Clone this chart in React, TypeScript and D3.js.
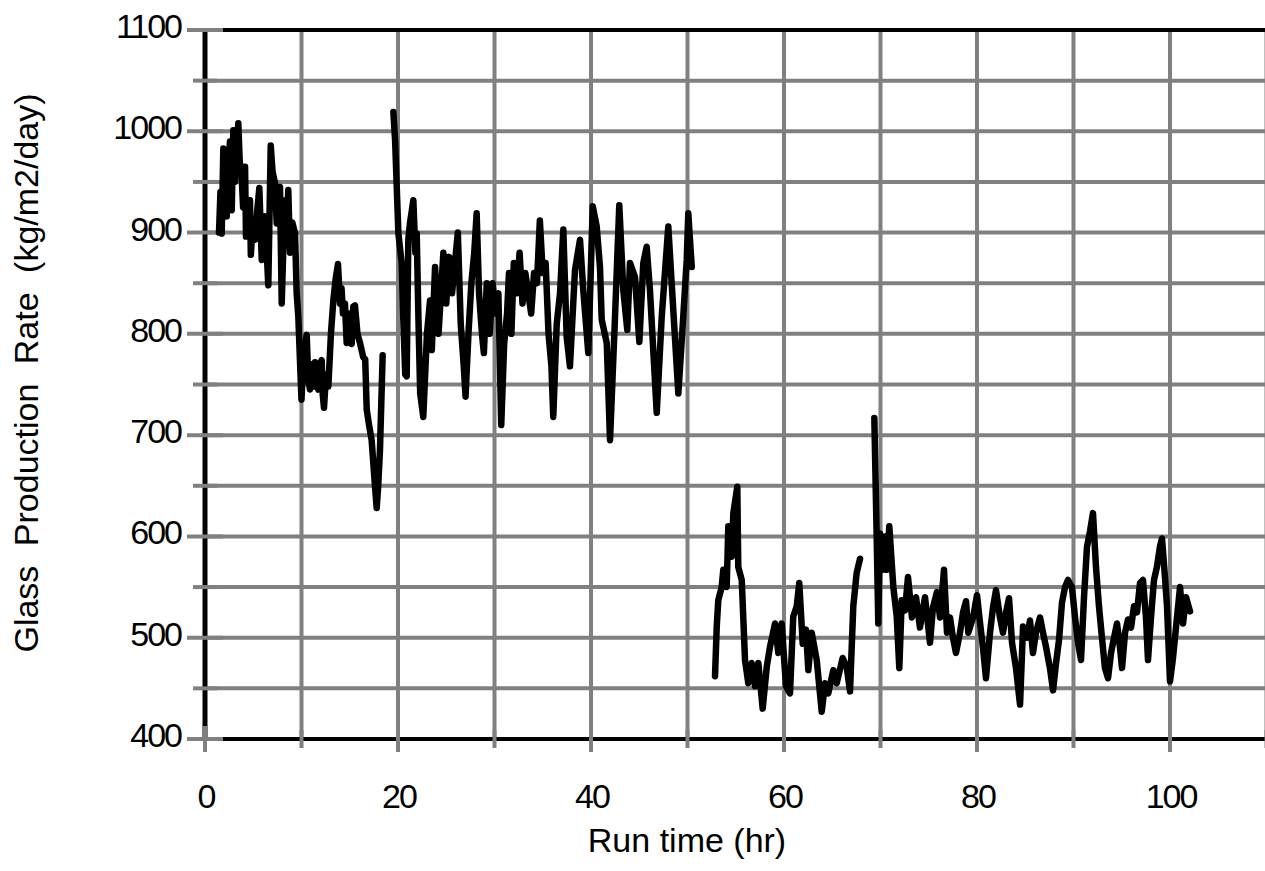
import React from 'react';
import * as d3 from 'd3';

// Axis ticks
const X_TICKS = [0, 20, 40, 60, 80, 100];
const Y_TICKS = [400, 500, 600, 700, 800, 900, 1000, 1100];

// Glass production rate (kg/m2/day) vs run time (hr), one array per continuous run
const RUN_1: [number, number][] = [
  [1.45, 900], [1.6, 940], [1.73, 899], [1.9, 983], [2.05, 930], [2.25, 916], [2.4, 960], [2.59, 990],
  [2.77, 922], [2.93, 1001], [3.1, 950], [3.3, 985], [3.45, 1008], [3.6, 970], [3.8, 955], [3.95, 925],
  [4.15, 965], [4.25, 896], [4.45, 920], [4.66, 932], [4.75, 878], [4.95, 910], [5.18, 893], [5.4, 920],
  [5.63, 944], [5.88, 873], [6.05, 900], [6.22, 916], [6.4, 880], [6.56, 848], [6.81, 986], [7.0, 960],
  [7.25, 949], [7.43, 909], [7.6, 930], [7.77, 945], [7.95, 830], [8.1, 880], [8.29, 932], [8.45, 900],
  [8.63, 942], [8.81, 880], [9.05, 910], [9.33, 899], [9.5, 840], [9.67, 817], [9.84, 774], [10.0, 735],
  [10.2, 780], [10.54, 799], [10.7, 755], [10.88, 745], [11.1, 770], [11.25, 748], [11.4, 772], [11.55, 750],
  [11.74, 745], [11.9, 770], [12.09, 774], [12.2, 740], [12.33, 727], [12.55, 760], [12.78, 748], [13.05, 800],
  [13.3, 833], [13.55, 855], [13.78, 869], [13.99, 830], [14.15, 845], [14.3, 820], [14.5, 830], [14.68, 791],
  [14.85, 820], [15.0, 800], [15.2, 790], [15.37, 827], [15.54, 828], [15.8, 800], [16.06, 791], [16.4, 777],
  [16.6, 775], [16.76, 725], [17.0, 710], [17.27, 695], [17.62, 649], [17.79, 628], [17.95, 650], [18.13, 685],
  [18.41, 779],
];

const RUN_2: [number, number][] = [
  [19.52, 1019], [19.7, 991], [20.04, 899], [20.38, 870], [20.55, 814], [20.75, 760], [20.9, 758], [21.07, 893],
  [21.25, 910], [21.59, 932], [21.8, 880], [21.94, 899], [22.12, 814], [22.3, 741], [22.62, 718], [23.0, 800],
  [23.32, 833], [23.5, 784], [23.84, 866], [24.2, 800], [24.45, 840], [24.7, 880], [25.0, 830], [25.3, 876],
  [25.6, 840], [25.9, 870], [26.2, 900], [26.5, 810], [26.8, 770], [27.0, 738], [27.3, 800], [27.6, 850],
  [27.9, 880], [28.15, 919], [28.4, 840], [28.7, 800], [28.9, 781], [29.2, 850], [29.5, 800], [29.8, 850],
  [30.1, 820], [30.4, 840], [30.7, 710], [31.0, 790], [31.3, 820], [31.5, 860], [31.75, 800], [32.0, 870],
  [32.3, 840], [32.6, 880], [32.9, 830], [33.2, 860], [33.5, 840], [33.8, 820], [34.1, 860], [34.4, 850],
  [34.7, 912], [35.0, 860], [35.3, 870], [35.6, 800], [35.9, 768], [36.09, 718], [36.45, 810], [36.79, 840],
  [37.13, 903], [37.48, 797], [37.82, 768], [38.34, 863], [38.86, 893], [39.2, 843], [39.72, 781], [40.18, 926],
  [40.59, 906], [40.93, 866], [41.11, 814], [41.63, 791], [41.97, 695], [42.49, 817], [42.93, 927], [43.35, 843],
  [43.76, 804], [44.04, 870], [44.56, 856], [45.01, 792], [45.42, 870], [45.77, 886], [46.11, 843], [46.81, 722],
  [47.33, 817], [48.01, 906], [48.36, 850], [49.05, 741], [49.56, 817], [49.92, 873], [50.08, 919], [50.44, 866],
];

const RUN_3: [number, number][] = [
  [52.85, 462], [53.03, 511], [53.19, 537], [53.54, 550], [53.71, 567], [54.06, 550], [54.23, 610], [54.58, 580],
  [54.75, 623], [55.16, 649], [55.26, 570], [55.62, 557], [55.96, 478], [56.3, 455], [56.65, 475], [57.0, 452],
  [57.34, 475], [57.79, 430], [58.21, 471], [58.55, 491], [59.07, 514], [59.41, 485], [59.76, 514], [60.21, 452],
  [60.62, 445], [60.96, 521], [61.32, 531], [61.58, 554], [61.94, 494], [62.28, 508], [62.52, 468], [62.87, 505],
  [63.39, 478], [63.91, 427], [64.25, 455], [64.59, 445], [65.11, 468], [65.46, 455], [66.08, 480], [66.5, 471],
  [66.84, 447], [67.18, 531], [67.53, 564], [67.88, 578],
];

const RUN_4: [number, number][] = [
  [69.36, 717], [69.61, 597], [69.77, 514], [69.95, 603], [70.23, 567], [70.47, 600], [70.64, 567], [70.91, 610],
  [71.33, 550], [71.68, 521], [71.95, 470], [72.2, 537], [72.54, 527], [72.85, 560], [73.26, 520], [73.68, 540],
  [74.09, 510], [74.61, 540], [75.13, 495], [75.44, 530], [75.85, 545], [76.17, 520], [76.58, 567], [76.89, 505],
  [77.2, 520], [77.51, 500], [77.82, 485], [78.24, 505], [78.55, 525], [78.86, 536], [79.1, 505], [79.59, 520],
  [80.0, 542], [80.31, 515], [80.62, 490], [80.93, 460], [81.35, 505], [81.66, 530], [81.97, 547], [82.38, 520],
  [82.69, 505], [83.01, 525], [83.32, 539], [83.63, 495], [84.04, 470], [84.46, 434], [84.77, 511], [85.18, 500],
  [85.49, 517], [85.8, 485], [86.11, 505], [86.53, 520], [86.84, 505], [87.15, 491], [87.56, 470], [87.88, 448],
  [88.19, 475], [88.5, 498], [88.81, 535], [89.12, 550], [89.43, 557], [89.84, 550], [90.16, 520], [90.47, 495],
  [90.78, 478], [91.09, 540], [91.4, 590], [91.71, 605], [92.02, 623], [92.33, 570], [92.64, 531], [92.95, 500],
  [93.26, 470], [93.58, 460], [93.89, 485], [94.2, 500], [94.51, 514], [94.82, 490], [95.03, 470], [95.34, 505],
  [95.65, 518], [95.96, 510], [96.27, 531], [96.58, 525], [96.89, 554], [97.2, 557], [97.51, 520], [97.72, 478],
  [98.03, 520], [98.34, 557], [98.65, 570], [98.96, 590], [99.17, 598], [99.48, 560], [99.69, 531], [100.0, 457],
  [100.31, 480], [100.62, 510], [101.04, 550], [101.35, 514], [101.66, 540], [102.07, 526],
];

const RUNS = [RUN_1, RUN_2, RUN_3, RUN_4];

const X_TITLE = 'Run time (hr)';
const Y_TITLE = 'Glass Production Rate (kg/m2/day)';

export default function App() {
  const W = 1265;
  const H = 871;
  const x = d3.scaleLinear().domain([0, 110]).range([205, 1266.5]);
  const y = d3.scaleLinear().domain([400, 1100]).range([739, 30]);
  const line = d3
    .line<[number, number]>()
    .x((d) => x(d[0]))
    .y((d) => y(d[1]));

  const gridX = d3.range(0, 111, 10);
  const gridY = d3.range(400, 1101, 50);
  const grey = '#808080';
  const font = "'Liberation Sans', Arial, sans-serif";

  const x0 = x(0);
  const yBase = y(400);
  const yTop = y(1100);

  return (
    <svg
      width={W}
      height={H}
      style={{ position: 'absolute', left: 0, top: 0, display: 'block', background: '#fff' }}
    >
      {/* gridlines */}
      {gridY.map((v) => (
        <line key={'gy' + v} x1={x0} x2={W + 5} y1={y(v)} y2={y(v)} stroke={grey} strokeWidth={4} />
      ))}
      {gridX.map((t) => (
        <line key={'gx' + t} x1={x(t)} x2={x(t)} y1={yTop} y2={yBase} stroke={grey} strokeWidth={4} />
      ))}

      {/* axis frame */}
      <line x1={x0} x2={x0} y1={yTop} y2={yBase} stroke="#000" strokeWidth={5} />
      <line x1={x0} x2={W + 5} y1={yBase} y2={yBase} stroke="#000" strokeWidth={4} />
      <line x1={x0} x2={W + 5} y1={yTop} y2={yTop} stroke="#000" strokeWidth={4} />

      {/* cross tick marks */}
      {gridY.map((v) => {
        const len = v % 100 === 0 ? 18 : 12;
        return (
          <line key={'ty' + v} x1={x0 - len} x2={x0 + len} y1={y(v)} y2={y(v)} stroke={grey} strokeWidth={4} />
        );
      })}
      {gridX.map((t) => {
        const len = t % 20 === 0 ? 13 : 9;
        return (
          <line key={'tx' + t} x1={x(t)} x2={x(t)} y1={yBase - len} y2={yBase + len} stroke={grey} strokeWidth={4} />
        );
      })}

      {/* data */}
      {RUNS.map((run, i) => (
        <path
          key={'run' + i}
          d={line(run) || ''}
          fill="none"
          stroke="#000"
          strokeWidth={6.5}
          strokeLinejoin="round"
          strokeLinecap="round"
        />
      ))}

      {/* tick labels */}
      {Y_TICKS.map((v) => (
        <text
          key={'ly' + v}
          x={181}
          y={y(v) + 8}
          textAnchor="end"
          fontFamily={font}
          fontSize={34}
          letterSpacing={-2}
          fill="#000"
        >
          {v}
        </text>
      ))}
      {X_TICKS.map((t) => (
        <text
          key={'lx' + t}
          x={x(t) + 1}
          y={808}
          textAnchor="middle"
          fontFamily={font}
          fontSize={34}
          letterSpacing={-2}
          fill="#000"
        >
          {t}
        </text>
      ))}

      {/* axis titles */}
      <text x={687} y={852} textAnchor="middle" fontFamily={font} fontSize={34} fill="#000">
        {X_TITLE}
      </text>
      <text
        transform={`translate(38, 373) rotate(-90)`}
        textAnchor="middle"
        fontFamily={font}
        fontSize={34}
        wordSpacing={10}
        fill="#000"
      >
        {Y_TITLE}
      </text>
    </svg>
  );
}
